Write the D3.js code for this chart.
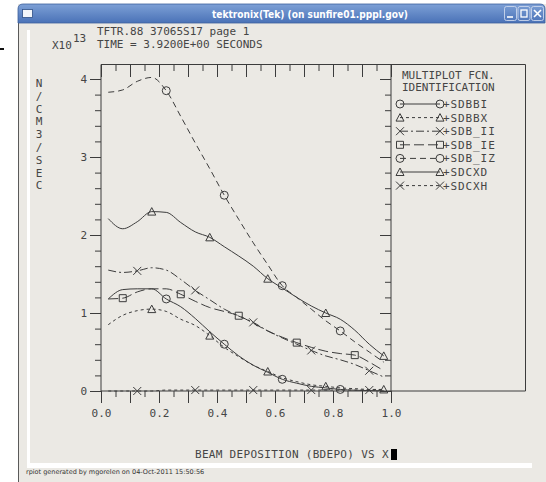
<!DOCTYPE html>
<html><head><meta charset="utf-8">
<script src="https://cdn.jsdelivr.net/npm/d3@7/dist/d3.min.js"></script>
<style>
html,body{margin:0;padding:0;background:#fff;}
svg{display:block;}
</style></head>
<body>
<svg id="c" width="546" height="482"></svg>
<script>
// ---- data ----
const xVals = [0.025,0.075,0.125,0.175,0.225,0.275,0.325,0.375,0.425,0.475,0.525,0.575,0.625,0.675,0.725,0.775,0.825,0.875,0.925,0.975];
const SDBBI  = [1.18,1.30,1.31,1.31,1.18,1.08,0.93,0.76,0.60,0.45,0.33,0.24,0.15,0.10,0.06,0.04,0.02,0.01,0.005,0.002];
const SDBBX  = [0.85,0.97,1.03,1.05,1.02,0.92,0.84,0.71,0.56,0.44,0.33,0.25,0.17,0.12,0.08,0.06,0.04,0.03,0.02,0.02];
const SDB_II = [1.55,1.52,1.54,1.58,1.55,1.43,1.29,1.17,1.05,0.96,0.88,0.77,0.68,0.60,0.52,0.45,0.40,0.34,0.26,0.18];
const SDB_IE = [1.18,1.19,1.27,1.31,1.31,1.24,1.15,1.07,1.02,0.965,0.87,0.77,0.69,0.62,0.56,0.51,0.48,0.46,0.37,0.26];
const SDB_IZ = [3.83,3.86,3.97,4.02,3.85,3.52,3.18,2.85,2.51,2.20,1.90,1.62,1.35,1.20,1.05,0.90,0.77,0.63,0.50,0.37];
const SDCXD  = [2.21,2.08,2.17,2.30,2.29,2.16,2.04,1.97,1.85,1.73,1.60,1.44,1.32,1.20,1.09,1.00,0.92,0.78,0.60,0.45];
const SDCXH  = [0,0,0,0,0.012,0.012,0.012,0.012,0.012,0.012,0.012,0.012,0.012,0.012,0.012,0.012,0.012,0.012,0.012,0.012];
const xTickLabels = ["0.0","0.2","0.4","0.6","0.8","1.0"];
const yTickLabels = ["0","1","2","3","4"];
const yLabelChars = ["N","/","C","M","3","/","S","E","C"];
const seriesNames = ["+SDBBI","+SDBBX","+SDB_II","+SDB_IE","+SDB_IZ","+SDCXD","+SDCXH"];
const seriesValues = [SDBBI,SDBBX,SDB_II,SDB_IE,SDB_IZ,SDCXD,SDCXH];
const seriesMarker = ["circle","triangle","cross","square","circle","triangle","cross"];
const seriesDash = [null,"3,3","8,3,2,3","10,4","6,4",null,"3,3"];
const markerOffset = [4,3,2,1,4,3,2];

// ---- drawing ----
const svg = d3.select("#c");
const BG = "#ebe9e4", INK = "#3c3c3c", TXT = "#454545";
const MONO = "'DejaVu Sans Mono', monospace";

// window frame
svg.append("rect").attr("x",18).attr("y",4).attr("width",528).attr("height",478).attr("fill",BG);
svg.append("line").attr("x1",18.5).attr("x2",18.5).attr("y1",8).attr("y2",482).attr("stroke","#5a5a5a");
const grad = svg.append("defs").append("linearGradient").attr("id","tb").attr("x1",0).attr("x2",0).attr("y1",0).attr("y2",1);
grad.append("stop").attr("offset","0").attr("stop-color","#7da0d6");
grad.append("stop").attr("offset","1").attr("stop-color","#4a72b7");
svg.append("path").attr("d","M18,23 L18,9 Q18,4 23,4 L540,4 Q545,4 545,9 L545,23 Z").attr("fill","url(#tb)").attr("stroke","#3d5f9c").attr("stroke-width",0.8);
svg.append("rect").attr("x",22.5).attr("y",9.5).attr("width",10).attr("height",8).attr("fill","#f4f6fa").attr("stroke","#2f4f86").attr("stroke-width",0.8);
svg.append("text").attr("x",310).attr("y",17.5).attr("text-anchor","middle")
  .attr("font-family","'DejaVu Sans', sans-serif").attr("font-weight","bold").attr("font-size",10.5)
  .attr("fill","#fff").attr("textLength",196).attr("lengthAdjust","spacingAndGlyphs")
  .text("tektronix(Tek) (on sunfire01.pppl.gov)");
[504,517.5,531].forEach((bx,i)=>{
  svg.append("rect").attr("x",bx+0.5).attr("y",6.5).attr("width",12).attr("height",14).attr("rx",2)
    .attr("fill","none").attr("stroke","#c9d6ec").attr("stroke-width",0.9);
});
svg.append("line").attr("x1",507).attr("x2",513).attr("y1",17).attr("y2",17).attr("stroke","#fff").attr("stroke-width",1.6);
svg.append("rect").attr("x",521).attr("y",10).attr("width",6).attr("height",7).attr("fill","none").attr("stroke","#fff").attr("stroke-width",1.3);
svg.append("path").attr("d","M534,10 L541,17 M541,10 L534,17").attr("stroke","#fff").attr("stroke-width",1.6);

// small black dash at far left
svg.append("rect").attr("x",0).attr("y",48).attr("width",4).attr("height",2).attr("fill","#111");

// white bars
svg.append("rect").attr("x",27).attr("y",30).attr("width",3).attr("height",434).attr("fill","#fff");
svg.append("rect").attr("x",27).attr("y",463).attr("width",505).attr("height",5).attr("fill","#fff");

// footer
svg.append("text").attr("x",26).attr("y",474).attr("font-family","'DejaVu Sans', sans-serif").attr("font-size",6.5)
  .attr("fill","#333").text("rpiot generated by mgorelen on 04-Oct-2011 15:50:56");

// headers
const hdr = svg.append("g").attr("font-family",MONO).attr("font-size",11).attr("fill",TXT);
hdr.append("text").attr("x",97).attr("y",35).text("TFTR.88 37065S17 page 1");
hdr.append("text").attr("x",97).attr("y",48).text("TIME = 3.9200E+00 SECONDS");
hdr.append("text").attr("x",52).attr("y",49).text("X10");
hdr.append("text").attr("x",73).attr("y",42).text("13");

// scales
const x = d3.scaleLinear().domain([0,1]).range([101,391]);
const y = d3.scaleLinear().domain([0,4]).range([391,79]);
const TOP = 64, BOT = y(0), LEFT = x(0), RIGHT = x(1);

// axes
const majX = d3.range(0,11).map(i=>i/10);
const minX = d3.range(0,20).map(i=>i/20+0.05).filter((d,i)=>i%2===0);
const majY = d3.range(0,5);
const minY = d3.range(0,21).map(i=>i/5).filter(d=>Math.abs(d-Math.round(d))>1e-6);

function axisStyle(g){
  g.select(".domain").remove();
  g.selectAll(".tick line").attr("stroke",INK).attr("stroke-width",1);
  g.selectAll(".tick text").attr("fill",TXT).attr("font-family",MONO).attr("font-size",11);
}
// bottom
svg.append("g").attr("transform",`translate(0,${BOT})`)
  .call(d3.axisBottom(x).tickValues(majX).tickSize(12).tickPadding(16).tickFormat(d=>{
    const k = Math.round(d*10); return k%2===0 ? xTickLabels[k/2] : "";}))
  .call(axisStyle).call(g=>g.selectAll(".tick text").attr("dy",null).attr("y",26));
svg.append("g").attr("transform",`translate(0,${BOT})`)
  .call(d3.axisBottom(x).tickValues(minX).tickSize(6).tickFormat("")).call(axisStyle);
// top
svg.append("g").attr("transform",`translate(0,${TOP})`)
  .call(d3.axisBottom(x).tickValues(majX).tickSize(13).tickFormat("")).call(axisStyle);
svg.append("g").attr("transform",`translate(0,${TOP})`)
  .call(d3.axisBottom(x).tickValues(minX).tickSize(7).tickFormat("")).call(axisStyle);
// left
svg.append("g").attr("transform",`translate(${LEFT},0)`)
  .call(d3.axisLeft(y).tickValues(majY).tickSize(11).tickPadding(3).tickFormat((d,i)=>yTickLabels[d]))
  .call(axisStyle);
svg.append("g").attr("transform",`translate(${LEFT},0)`)
  .call(d3.axisLeft(y).tickValues(minY).tickSize(6).tickFormat("")).call(axisStyle);
// right (inward)
svg.append("g").attr("transform",`translate(${RIGHT},0)`)
  .call(d3.axisLeft(y).tickValues(majY).tickSize(11).tickFormat("")).call(axisStyle);
svg.append("g").attr("transform",`translate(${RIGHT},0)`)
  .call(d3.axisLeft(y).tickValues(minY).tickSize(6).tickFormat("")).call(axisStyle);

// frame lines
const frame = svg.append("g").attr("stroke",INK).attr("stroke-width",1).attr("fill","none");
frame.append("path").attr("d",`M${LEFT},${BOT} L${LEFT},${TOP}.5 L525.5,${TOP}.5 L525.5,${BOT} L${RIGHT},${BOT}`);
frame.append("line").attr("x1",LEFT).attr("x2",RIGHT).attr("y1",BOT).attr("y2",BOT);
frame.append("line").attr("x1",RIGHT).attr("x2",RIGHT).attr("y1",TOP).attr("y2",BOT);

// y label
const yl = svg.append("g").attr("font-family",MONO).attr("font-size",11).attr("fill",TXT).attr("text-anchor","middle");
yLabelChars.forEach((c,i)=>yl.append("text").attr("x",39).attr("y",87+i*12.8).text(c));

// x title
svg.append("text").attr("x",195).attr("y",458).attr("font-family",MONO).attr("font-size",11).attr("fill",TXT)
  .attr("letter-spacing",0.3).text("BEAM DEPOSITION (BDEPO) VS X");
svg.append("rect").attr("x",391).attr("y",449).attr("width",6).attr("height",11).attr("fill","#000");

// markers
function marker(g, type, cx, cy){
  const m = g.append("path").attr("fill","none").attr("stroke",INK).attr("stroke-width",1);
  if(type==="circle") m.attr("d",`M${cx+4},${cy} A4,4 0 1,1 ${cx-4},${cy} A4,4 0 1,1 ${cx+4},${cy} Z`);
  else if(type==="triangle") m.attr("d",`M${cx-4},${cy+3.5} L${cx+4},${cy+3.5} L${cx},${cy-4} Z`);
  else if(type==="square") m.attr("d",`M${cx-3.5},${cy-3.5} h7 v7 h-7 Z`);
  else if(type==="cross") m.attr("d",`M${cx-4},${cy-4} L${cx+4},${cy+4} M${cx+4},${cy-4} L${cx-4},${cy+4}`);
}

// series
const line = d3.line().x((d,i)=>x(xVals[i])).y(d=>y(d)).curve(d3.curveMonotoneX);
const plot = svg.append("g");
seriesValues.forEach((vals,si)=>{
  plot.append("path").attr("d",line(vals)).attr("fill","none").attr("stroke",INK).attr("stroke-width",1)
    .attr("stroke-dasharray",seriesDash[si]);
  vals.forEach((v,i)=>{
    if(i>=markerOffset[si] && (i-markerOffset[si])%4===0) marker(plot, seriesMarker[si], x(xVals[i]), y(v));
  });
});

// legend
const lg = svg.append("g").attr("font-family",MONO).attr("font-size",11).attr("fill",TXT);
lg.append("text").attr("x",402).attr("y",79).text("MULTIPLOT FCN.");
lg.append("text").attr("x",402).attr("y",91).text("IDENTIFICATION");
seriesNames.forEach((nm,i)=>{
  const yy = 104 + i*13.6;
  lg.append("line").attr("x1",400).attr("x2",440).attr("y1",yy).attr("y2",yy).attr("stroke",INK)
    .attr("stroke-dasharray",seriesDash[i]);
  marker(lg, seriesMarker[i], 400, yy);
  marker(lg, seriesMarker[i], 440, yy);
  lg.append("text").attr("x",443).attr("y",yy+4).attr("letter-spacing",0.9).text(nm);
});
</script>
</body></html>
